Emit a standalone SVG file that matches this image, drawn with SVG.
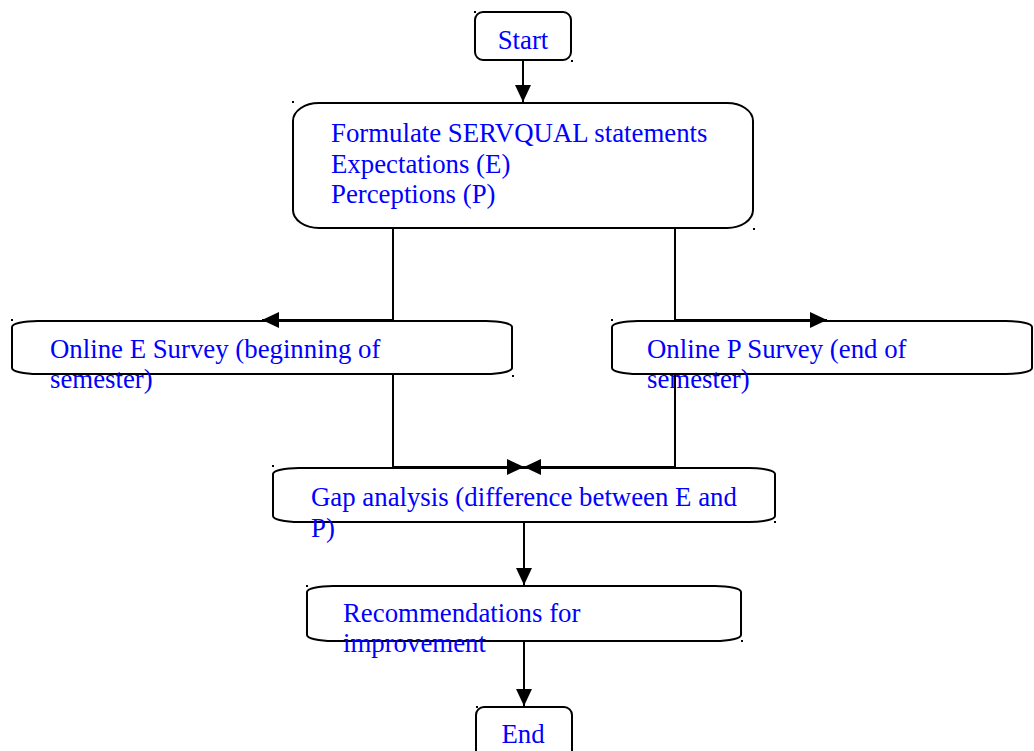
<svg xmlns="http://www.w3.org/2000/svg" width="1034" height="751" viewBox="0 0 1034 751">
<style>
.box{fill:#fff;stroke:#000;stroke-width:2}
.t{font-family:"Liberation Serif","Times New Roman",serif;font-size:26.8px;fill:#0000ff}
.c{fill:none;stroke:#000;stroke-width:2}
.dot{fill:#000}
</style>
<defs>
<marker id="ah" markerUnits="userSpaceOnUse" markerWidth="18" markerHeight="18" refX="17" refY="8" orient="auto">
<path d="M0,0 L17,8 L0,16 z" fill="#000"/>
</marker>
</defs>
<rect width="1034" height="751" fill="#fff"/>
<g id="start">
<rect class="box" x="475" y="12" width="96" height="48" rx="8" ry="8"/>
<text class="t" x="523" y="49" text-anchor="middle">Start</text>
</g>
<g id="formulate">
<rect class="box" x="293" y="103" width="460" height="125" rx="26" ry="18"/>
<text class="t" x="331" y="142">Formulate SERVQUAL statements</text>
<text class="t" x="331" y="173">Expectations (E)</text>
<text class="t" x="331" y="203">Perceptions (P)</text>
</g>
<g id="onlineE">
<rect class="box" x="12" y="321" width="500" height="53" rx="26" ry="6"/>
<text class="t" x="50" y="358">Online E Survey (beginning of</text>
<text class="t" x="50" y="388">semester)</text>
</g>
<g id="onlineP">
<rect class="box" x="612" y="321" width="420" height="53" rx="26" ry="6"/>
<text class="t" x="647" y="358">Online P Survey (end of</text>
<text class="t" x="647" y="388">semester)</text>
</g>
<g id="gap">
<rect class="box" x="273" y="468" width="502" height="54" rx="26" ry="6"/>
<text class="t" x="311" y="506">Gap analysis (difference between E and</text>
<text class="t" x="311" y="537">P)</text>
</g>
<g id="recommendations">
<rect class="box" x="307" y="586" width="434" height="55" rx="26" ry="6"/>
<text class="t" x="343" y="622">Recommendations for</text>
<text class="t" x="343" y="652">improvement</text>
</g>
<g id="end">
<rect class="box" x="476" y="707" width="96" height="60" rx="8" ry="8"/>
<text class="t" x="523" y="743" text-anchor="middle">End</text>
</g>
<g id="connectors">
<path class="c" d="M523,60 V102" marker-end="url(#ah)"/>
<path class="c" d="M393,228 V320 H262" marker-end="url(#ah)"/>
<path class="c" d="M675,228 V320 H827" marker-end="url(#ah)"/>
<path class="c" d="M393,374 V467 H524" marker-end="url(#ah)"/>
<path class="c" d="M675,374 V467 H524" marker-end="url(#ah)"/>
<path class="c" d="M524,522 V585" marker-end="url(#ah)"/>
<path class="c" d="M524,641 V706" marker-end="url(#ah)"/>
</g>
<g id="marks">
<rect class="dot" x="474" y="11" width="2" height="2"/>
<rect class="dot" x="571" y="60" width="2" height="2"/>
<rect class="dot" x="292" y="101" width="2" height="2"/>
<rect class="dot" x="753" y="228" width="2" height="2"/>
<rect class="dot" x="11" y="319" width="2" height="2"/>
<rect class="dot" x="512" y="375" width="2" height="2"/>
<rect class="dot" x="611" y="319" width="2" height="2"/>
<rect class="dot" x="272" y="465" width="2" height="2"/>
<rect class="dot" x="774" y="521" width="2" height="2"/>
<rect class="dot" x="306" y="585" width="2" height="2"/>
<rect class="dot" x="741" y="640" width="2" height="2"/>
<rect class="dot" x="476" y="706" width="2" height="2"/>
</g>
</svg>
